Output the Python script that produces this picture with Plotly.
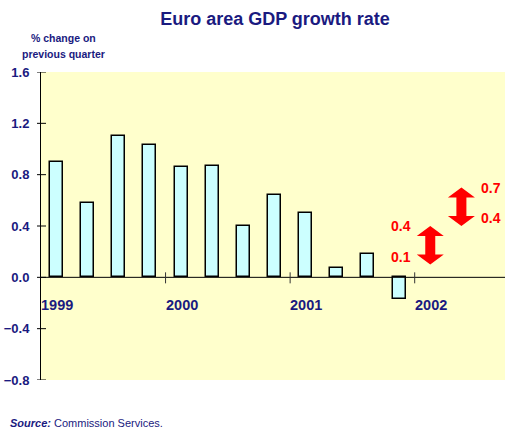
import plotly.graph_objects as go

# ---- data ----
quarters = ["1999Q1", "1999Q2", "1999Q3", "1999Q4",
            "2000Q1", "2000Q2", "2000Q3", "2000Q4",
            "2001Q1", "2001Q2", "2001Q3", "2001Q4"]
growth = [0.90, 0.58, 1.10, 1.03, 0.86, 0.865, 0.40, 0.645, 0.505, 0.07, 0.185, -0.165]
year_labels = ["1999", "2000", "2001", "2002"]
forecast_pos = [12, 13]          # quarter index of forecast ranges (2002Q1, 2002Q2)
forecast_low = [0.1, 0.4]
forecast_high = [0.4, 0.7]
y_ticks = [-0.8, -0.4, 0.0, 0.4, 0.8, 1.2, 1.6]

NAVY = "#1a1a80"
RED = "#ff0000"
FONT = "Liberation Sans, Arial"

W, H = 505, 430
ML, MR, MT, MB = 41, 0, 72, 50
XMAX = 14.9
YMIN, YMAX = -0.8, 1.6
plot_w = W - ML - MR
plot_h = H - MT - MB
px_x = XMAX / plot_w                 # data units per pixel (x)
px_y = (YMAX - YMIN) / plot_h        # data units per pixel (y)

fig = go.Figure()
fig.add_trace(go.Bar(
    x=[i + 0.5 for i in range(len(growth))],
    y=growth,
    width=13 * px_x,
    marker=dict(color="#ccffff", line=dict(color="black", width=1.5)),
    hovertext=quarters,
))

shapes = []
# zero line across plot
shapes.append(dict(type="line", xref="paper", yref="y", x0=0, x1=1, y0=0, y1=0,
                   line=dict(color="black", width=1)))
# year tick marks crossing the zero line
for k in range(1, len(year_labels)):
    shapes.append(dict(type="line", xref="x", yref="y",
                       x0=4 * k, x1=4 * k, y0=-6 * px_y, y1=5 * px_y,
                       line=dict(color="#333333", width=1)))
# y-axis ticks crossing the axis
for t in y_ticks:
    shapes.append(dict(type="line", xref="paper", yref="y",
                       x0=-4 / plot_w, x1=5 / plot_w, y0=t, y1=t,
                       line=dict(color="black", width=1)))

# double-headed forecast arrows
head_hw = 13.5 * px_x
shaft_hw = 5 * px_x
head_h = 10 * px_y
for pos, lo, hi in zip(forecast_pos, forecast_low, forecast_high):
    cx = pos + 0.5
    pts = [
        (cx, hi),
        (cx + head_hw, hi - head_h),
        (cx + shaft_hw, hi - head_h),
        (cx + shaft_hw, lo + head_h),
        (cx + head_hw, lo + head_h),
        (cx, lo),
        (cx - head_hw, lo + head_h),
        (cx - shaft_hw, lo + head_h),
        (cx - shaft_hw, hi - head_h),
        (cx - head_hw, hi - head_h),
    ]
    path = "M " + " L ".join(f"{x},{y}" for x, y in pts) + " Z"
    shapes.append(dict(type="path", xref="x", yref="y", path=path,
                       fillcolor=RED, line=dict(color=RED, width=0)))

annotations = []
# year labels
for k, lab in enumerate(year_labels):
    annotations.append(dict(x=4 * k, y=0, xref="x", yref="y", text=lab,
                            showarrow=False, xanchor="left", yanchor="middle",
                            yshift=-28, xshift=-2,
                            font=dict(family=FONT, size=14.5, color=NAVY, weight="bold")))
# forecast labels
for i, (pos, lo, hi) in enumerate(zip(forecast_pos, forecast_low, forecast_high)):
    cx = pos + 0.5
    left = i == 0
    for val, ysh in ((hi, 0), (lo, 8)):
        annotations.append(dict(x=cx, y=val, xref="x", yref="y", text=f"{val:.1f}",
                                showarrow=False,
                                xanchor="right" if left else "left",
                                xshift=-17 if left else 18, yshift=ysh,
                                font=dict(family=FONT, size=14,
                                          color=RED, weight="bold")))
# y-axis title
for txt, ypx in (("% change on", 37.5), ("previous quarter", 54)):
    annotations.append(dict(x=(63 - ML) / plot_w, y=1 + (MT - ypx) / plot_h,
                            xref="paper", yref="paper", text=txt, showarrow=False,
                            xanchor="center", yanchor="middle",
                            font=dict(family=FONT, size=10.5, color=NAVY, weight="bold")))
# source
annotations.append(dict(x=(8 - ML) / plot_w, y=-(423 - (H - MB)) / plot_h,
                        xref="paper", yref="paper",
                        text="<b><i>Source:</i></b> Commission Services.",
                        showarrow=False, xanchor="left", yanchor="middle",
                        font=dict(family=FONT, size=11, color=NAVY)))

fig.update_layout(
    width=W, height=H,
    margin=dict(l=ML, r=MR, t=MT, b=MB),
    paper_bgcolor="white",
    plot_bgcolor="#ffffcc",
    showlegend=False,
    bargap=0,
    title=dict(text="<b>Euro area GDP growth rate</b>",
               x=275 / W, xanchor="center", y=1 - 19 / H, yanchor="middle",
               font=dict(family=FONT, size=18, color=NAVY)),
    xaxis=dict(range=[0, XMAX], showticklabels=False, showgrid=False,
               zeroline=False, showline=False, ticks=""),
    yaxis=dict(range=[YMIN, YMAX], tickvals=y_ticks, tickformat=".1f",
               showgrid=False, zeroline=False, showline=True,
               linecolor="black", linewidth=1, ticks="",
               ticklabelstandoff=8,
               tickfont=dict(family=FONT, size=13,
                             color=NAVY, weight="bold")),
    shapes=shapes,
    annotations=annotations,
)

fig.write_html("out.html")
